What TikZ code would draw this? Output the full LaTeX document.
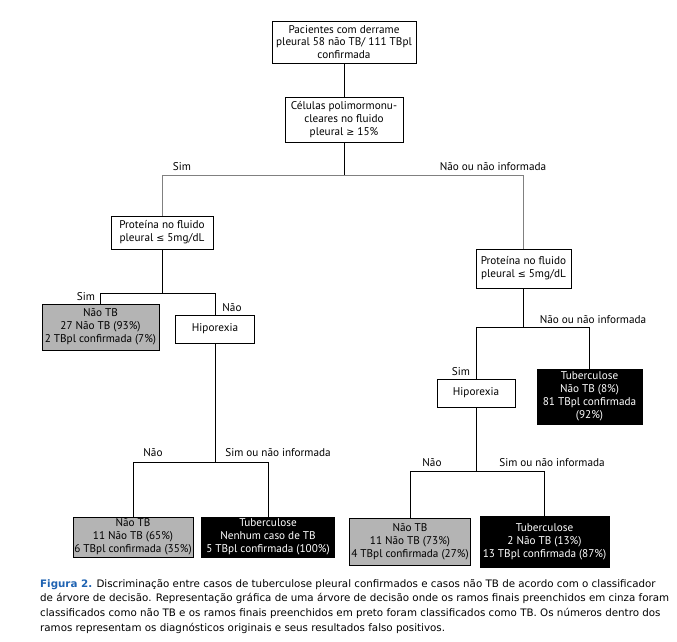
\documentclass[tikz,border=0pt]{standalone}
\usepackage{fontspec}
\setmainfont{PT Sans}
\newfontfamily\capfont{DejaVu Sans}
\newcommand{\symf}[1]{{\capfont\fontsize{9.6}{12}\selectfont #1}}
\definecolor{leafgray}{RGB}{180,180,180}
\definecolor{linegray}{RGB}{128,128,128}
\definecolor{figblue}{RGB}{31,99,178}
\tikzset{
  box/.style={draw, fill=white, align=center, inner sep=0pt, line width=0.9pt,
    font=\fontsize{11.2}{12.9}\selectfont},
  greyleaf/.style={box, fill=leafgray},
  blackleaf/.style={box, fill=black, text=white},
  lbl/.style={inner sep=0pt, font=\fontsize{11.2}{12.9}\selectfont},
  sz/.style 2 args={minimum width=#1pt, minimum height=#2pt},
  edge/.style={line width=0.8pt},
  greyedge/.style={line width=0.8pt, draw=linegray},
}
\begin{document}
\begin{tikzpicture}[x=1pt, y=-1pt]
\useasboundingbox[fill=white] (0,0) rectangle (677,641);

% boxes
\node[box, sz={144}{42}] (root) at (344,42) {Pacientes com derrame\\pleural 58 não TB/ 111 TBpl\\confirmada};
\node[box, sz={118}{45}] (cel) at (344,119.5) {Células polimormonu-\\cleares no fluido\\pleural \symf{≥} 15\%};
\node[box, sz={102}{33}] (protL) at (162,232.5) {Proteína no fluido\\pleural \symf{≤} 5mg/dL};
\node[box, sz={95}{39}] (protR) at (523.5,268.5) {Proteína no fluido\\pleural \symf{≤} 5mg/dL};
\node[greyleaf, sz={117}{46}] (leafA) at (100.5,327) {Não TB\\27 Não TB (93\%)\\2 TBpl confirmada (7\%)};
\node[box, sz={79}{28}] (hipL) at (215,329) {Hiporexia};
\node[blackleaf, sz={105}{55}] (leafB) at (589.5,396.5) {Tuberculose\\Não TB (8\%)\\81 TBpl confirmada\\(92\%)};
\node[box, sz={78}{28}] (hipR) at (476,393) {Hiporexia};
\node[greyleaf, sz={120}{40}] (leafC) at (133,537) {Não TB\\11 Não TB (65\%)\\6 TBpl confirmada (35\%)};
\node[blackleaf, sz={133}{40}] (leafD) at (268,537) {Tuberculose\\Nenhum caso de TB\\5 TBpl confirmada (100\%)};
\node[greyleaf, sz={121}{47}] (leafE) at (410,541.5) {Não TB\\11 Não TB (73\%)\\4 TBpl confirmada (27\%)};
\node[blackleaf, sz={129}{51}] (leafF) at (544.5,541.5) {Tuberculose\\2 Não TB (13\%)\\13 TBpl confirmada (87\%)};

% split points
\coordinate (s1) at (344,175);
\coordinate (s2) at (162,293);
\coordinate (s3) at (215,462);
\coordinate (s4) at (523.5,327);
\coordinate (s5) at (476,471);

% connectors
\draw[edge] (root) -- (cel);
\draw[edge] (cel) -- (s1);
\draw[greyedge] (protL.north) |- (s1);
\draw[greyedge] (protR.north) |- (s1);
\draw[edge] (protL) -- (s2);
\draw[edge] (leafA.north) |- (s2);
\draw[edge] (hipL.north) |- (s2);
\draw[edge] (hipL) -- (s3);
\draw[edge] (leafC.north) |- (s3);
\draw[edge] (leafD.north) |- (s3);
\draw[edge] (protR) -- (s4);
\draw[edge] (hipR.north) |- (s4);
\draw[edge] (leafB.north) |- (s4);
\draw[edge] (hipR) -- (s5);
\draw[edge] (leafE.north) |- (s5);
\draw[edge] (leafF.north) |- (s5);

% branch labels
\node[lbl] (simA) at (182,167) {Sim};
\node[lbl] (naoA) at (493,167) {Não ou não informada};
\node[lbl] (simB) at (86,297) {Sim};
\node[lbl] (naoB) at (232,308) {Não};
\node[lbl] (naoC) at (153,453) {Não};
\node[lbl] (simC) at (278,453) {Sim ou não informada};
\node[lbl] (naoD) at (593,320) {Não ou não informada};
\node[lbl] (simD) at (461,372) {Sim};
\node[lbl] (naoE) at (432,463) {Não};
\node[lbl] (simE) at (552,463) {Sim ou não informada};

% caption
\node[anchor=north west, inner sep=0pt, align=left,
  font=\capfont\fontsize{10.3}{14.6}\selectfont] (caption) at (40,579)
  {{\bfseries\color{figblue}Figura 2.} Discriminação entre casos de tuberculose pleural confirmados e casos não TB de acordo com o classificador\\
  de árvore de decisão. Representação gráfica de uma árvore de decisão onde os ramos finais preenchidos em cinza foram\\
  classificados como não TB e os ramos finais preenchidos em preto foram classificados como TB. Os números dentro dos\\
  ramos representam os diagnósticos originais e seus resultados falso positivos.};
\end{tikzpicture}
\end{document}
